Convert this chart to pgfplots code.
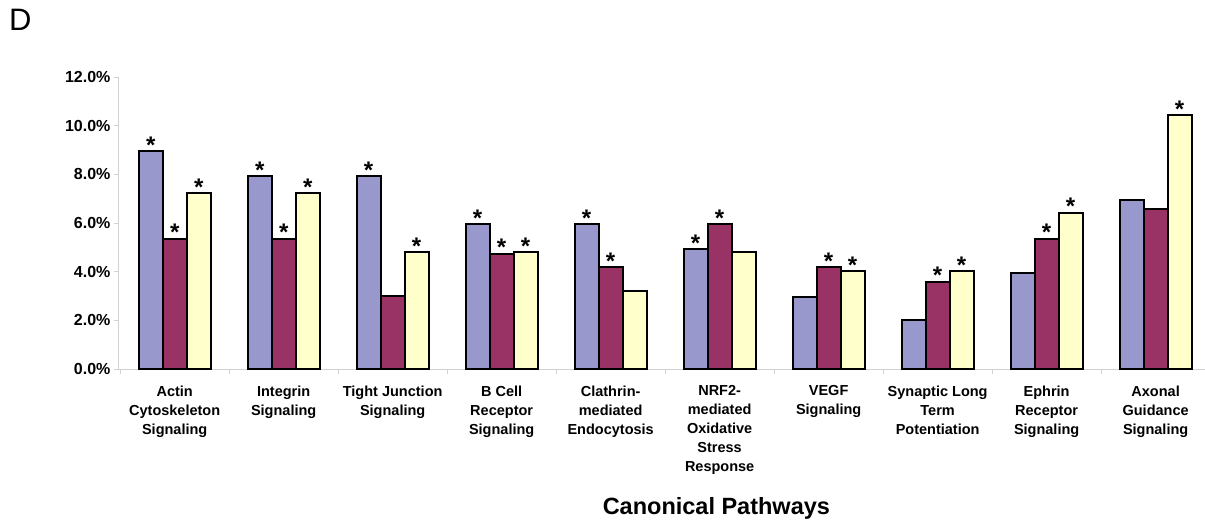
\documentclass[border=0pt]{standalone}
\usepackage{fontspec}
\setmainfont{Liberation Sans}
\usepackage{pgfplots}
\usepackage{pgfplotstable}
\pgfplotsset{compat=1.18}

\definecolor{serA}{HTML}{9898CC}
\definecolor{serB}{HTML}{993366}
\definecolor{serC}{HTML}{FFFFCC}
\definecolor{axisgray}{HTML}{D2D2D2}

% percentage of genes per pathway for the three comparisons;
% s* columns hold the significance marks
\pgfplotstableread{
x a    b    c     sa sb sc
0 8.95 5.35 7.23  *  *  *
1 7.93 5.35 7.23  *  *  *
2 7.93 2.98 4.79  *  {} *
3 5.95 4.74 4.79  *  *  *
4 5.95 4.19 3.20  *  *  {}
5 4.93 5.95 4.79  *  *  {}
6 2.97 4.18 4.01  {} *  *
7 2.00 3.59 4.01  {} *  *
8 3.94 5.35 6.42  {} *  *
9 6.94 6.56 10.43 {} {} *
}\pathways

\pgfplotsset{
  pathbar/.style={fill=#1, draw=black, line width=2pt},
}

\begin{document}
\begin{tikzpicture}
\useasboundingbox (0,0) rectangle (1205pt,520pt);
\node[anchor=north west, inner sep=0pt, font=\fontsize{31}{31}\selectfont] at (9pt,511pt) {D};
\begin{axis}[
  at={(118pt,151pt)}, anchor=south west,
  scale only axis, width=1090pt, height=292pt,
  xmin=-0.52, xmax=9.48, ymin=0, ymax=12,
  ybar=0pt, bar width=24pt,
  axis x line*=bottom, axis y line*=left,
  axis line style={axisgray, line width=0.8pt},
  tick align=outside,
  xtick={0,...,9},
  major x tick style={draw=none},
  minor xtick={-0.5,0.5,...,9.5},
  minor x tick style={axisgray, line width=0.8pt},
  minor tick length=5pt,
  ytick={0,2,...,12},
  y tick style={axisgray, line width=0.8pt},
  major tick length=4pt,
  /pgf/number format/assume math mode=true,
  yticklabel={\pgfmathprintnumber[fixed,fixed zerofill,precision=1]{\tick}\%},
  y tick label style={font=\bfseries\fontsize{16}{19}\selectfont},
  xticklabels={
    {Actin\\Cytoskeleton\\Signaling},
    {Integrin\\Signaling},
    {Tight Junction\\Signaling},
    {B Cell\\Receptor\\Signaling},
    {Clathrin-\\mediated\\Endocytosis},
    {NRF2-\\mediated\\Oxidative\\Stress\\Response},
    {VEGF\\Signaling},
    {Synaptic Long\\Term\\Potentiation},
    {Ephrin\\Receptor\\Signaling},
    {Axonal\\Guidance\\Signaling}},
  x tick label style={font=\bfseries\fontsize{14.5}{19}\selectfont, align=center, yshift=-9pt},
  xlabel={Canonical Pathways},
  xlabel style={at={(rel axis cs:0.549,0)}, anchor=north, yshift=-128pt,
                inner sep=0pt, font=\bfseries\fontsize{23.5}{24}\selectfont},
  clip=false,
  nodes near coords, point meta=explicit symbolic,
  every node near coord/.append style={font=\bfseries\fontsize{24}{24}\selectfont,
                                       inner sep=0pt, anchor=south, yshift=-3pt},
]
\addplot[pathbar=serA] table[x=x, y=a, meta=sa] {\pathways};
\addplot[pathbar=serB] table[x=x, y=b, meta=sb] {\pathways};
\addplot[pathbar=serC] table[x=x, y=c, meta=sc] {\pathways};
\end{axis}
\end{tikzpicture}
\end{document}
